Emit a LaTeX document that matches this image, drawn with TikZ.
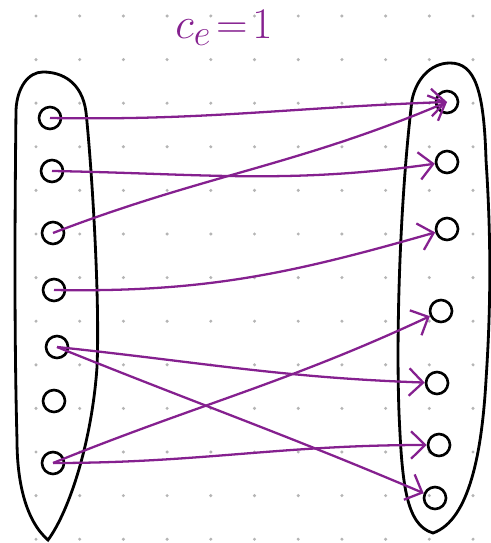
\documentclass[tikz,border=0pt]{standalone}
\usepackage{xcolor}
\usetikzlibrary{arrows.meta}
\definecolor{inkpurple}{HTML}{85208F}
\definecolor{griddot}{HTML}{B5B5B5}
\tikzset{
  pt/.style   = {circle, draw=black, line width=1.5pt, minimum size=0.44cm,
                 inner sep=0pt},
  box/.style  = {draw=black, line width=1.6pt},
  arr/.style  = {-{Straight Barb[length=2.8mm,width=5.5mm,line width=1.3pt]},
                 draw=inkpurple, line width=1.3pt},
  lbl/.style  = {text=inkpurple, font=\fontsize{30}{34}\selectfont},
}
\begin{document}
\begin{tikzpicture}[x=0.02cm,y=-0.02cm]
  \useasboundingbox (0,0) rectangle (490,543);
  % dotted paper
  \foreach \i in {0,...,10}
    \foreach \j in {0,...,12}
      \fill[griddot] (36+43.7*\i,16+43.6*\j) circle (1.7);
  \node[lbl] (title) at (224,28) {$c_e\!=\!1$};
  % the two containers
  \draw[box] (43,72) .. controls (62,72) and (82,82) .. (86,112)
    .. controls (92,170) and (100,300) .. (97,367)
    .. controls (92,440) and (70,510) .. (48,540)
    .. controls (25,520) and (17,480) .. (17,440)
    .. controls (14,330) and (15,200) .. (16,110)
    .. controls (17,88) and (28,72) .. (43,72) -- cycle;
  \draw[box] (450,63) .. controls (475,63) and (484,90) .. (486,160)
    .. controls (492,250) and (490,320) .. (486,380)
    .. controls (482,450) and (470,520) .. (433,533)
    .. controls (405,525) and (402,480) .. (399,413)
    .. controls (396,330) and (400,200) .. (412,100)
    .. controls (416,80) and (430,63) .. (450,63) -- cycle;
  % left circles
  \node[pt] (l1) at (50,118) {};
  \node[pt] (l2) at (52,171) {};
  \node[pt] (l3) at (53,233) {};
  \node[pt] (l4) at (54,290) {};
  \node[pt] (l5) at (57,347) {};
  \node[pt] (l6) at (54,401) {};
  \node[pt] (l7) at (53,463) {};
  % right circles
  \node[pt] (r1) at (447,102) {};
  \node[pt] (r2) at (447,162) {};
  \node[pt] (r3) at (447,229) {};
  \node[pt] (r4) at (441,311) {};
  \node[pt] (r5) at (437,383) {};
  \node[pt] (r6) at (439,445) {};
  \node[pt] (r7) at (435,498) {};
  % the map
  \draw[arr] (l1.center) to[out=-1,in=182] (r1.center);
  \draw[arr] (l2.center) to[out=-1,in=188] (r2);
  \draw[arr] (l3.center) to[out=21,in=203] (r1.center);
  \draw[arr] (l4.center) to[out=-1,in=196] (r3);
  \draw[arr] (l5.center) to[out=-6,in=178] (r5);
  \draw[arr] (l5.center) to[out=-22,in=157] (r7);
  \draw[arr] (l7.center) to[out=22,in=205] (r4);
  \draw[arr] (l7.center) to[out=0,in=180] (r6);
\end{tikzpicture}
\end{document}
